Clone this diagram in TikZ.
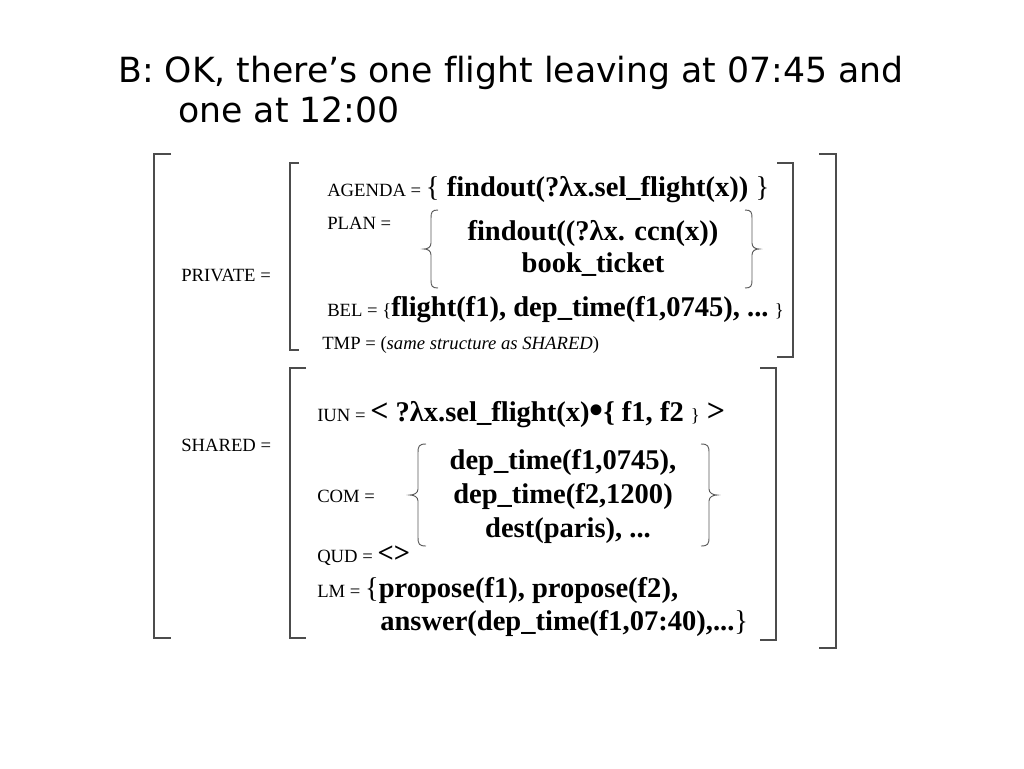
\documentclass[tikz,border=0pt]{standalone}
\usepackage{fontspec}
\setmainfont[Ligatures={TeX,NoCommon}]{Liberation Serif}
\newfontfamily\titlefont[Ligatures={TeX,NoCommon}]{DejaVu Sans}
\newcommand\bgtxt[1]{{\fontsize{21.4}{24}\selectfont\bfseries #1}}
\newcommand\bgreg[1]{{\fontsize{21.4}{24}\selectfont #1}}
\newcommand\bgbul{{\fontsize{30}{30}\selectfont\raisebox{-1.5pt}{•}}}
\begin{document}
\begin{tikzpicture}[x=0.75pt,y=-0.75pt,
  title/.style={anchor=base west, inner sep=0pt, font=\titlefont\fontsize{26}{30}\selectfont},
  lbl/.style={anchor=base west, inner sep=0pt, font=\fontsize{14}{16}\selectfont},
  bigc/.style={anchor=base, inner sep=0pt, font=\fontsize{21.4}{24}\selectfont\bfseries},
  brk/.style={draw=black!70, line width=0.9pt},
  brc/.style={draw=black!65, line width=0.7pt}]
\useasboundingbox (0,0) rectangle (1024,768);
% title
\node[title] (t1) at (118,82) {B: OK, there’s one flight leaving at 07:45 and};
\node[title] (t2) at (178,122) {one at 12:00};
% outer bracket
\draw[brk] (171,154) -- (154,154) -- (154,638) -- (171,638);
\draw[brk] (819,154) -- (836,154) -- (836,648) -- (819,648);
% private bracket
\draw[brk] (299,163) -- (290,163) -- (290,350) -- (299,350);
\draw[brk] (777,163) -- (793,163) -- (793,357) -- (777,357);
% shared bracket
\draw[brk] (306,368) -- (290,368) -- (290,638) -- (306,638);
\draw[brk] (760,368) -- (776,368) -- (776,640) -- (760,640);
% labels
\node[lbl] (priv) at (181,281) {PRIVATE =};
\node[lbl] (shar) at (181,451) {SHARED =};
% private contents
\node[lbl] (agenda) at (327,196) {AGENDA = \bgreg{\{ }\bgtxt{findout(?λx.sel\_flight(x))}\bgreg{ \}}};
\node[lbl] (plan) at (327,229) {PLAN =};
\node[bigc] (plan1) at (593,240) {findout((?λx. ccn(x))};
\node[bigc] (plan2) at (593,272) {book\_ticket};
\draw[brc] (438,210) .. controls (432,210) and (431,212) .. (431,218) -- (431,243) .. controls (431,247) and (428,249) .. (424,249) .. controls (428,249) and (431,251) .. (431,255) -- (431,280) .. controls (431,286) and (432,288) .. (438,288);
\draw[brc] (745,210) .. controls (751,210) and (752,212) .. (752,218) -- (752,243) .. controls (752,247) and (755,249) .. (759,249) .. controls (755,249) and (752,251) .. (752,255) -- (752,280) .. controls (752,286) and (751,288) .. (745,288);
\node[lbl] (bel) at (327,316) {BEL = \{\bgtxt{flight(f1), dep\_time(f1,0745), ...} \}};
\node[lbl] (tmp) at (322,349) {TMP = (\textit{same structure as SHARED})};
% shared contents
\node[lbl] (iun) at (317,421) {IUN = \bgtxt{{\fontsize{24}{24}\selectfont<} ?λx.sel\_flight(x)\bgbul\{ f1, f2 }\}\bgtxt{ {\fontsize{24}{24}\selectfont>}}};
\node[lbl] (com) at (317,502) {COM =};
\node[bigc] (com1) at (563,469) {dep\_time(f1,0745),};
\node[bigc] (com2) at (563,503) {dep\_time(f2,1200)};
\node[bigc] (com3) at (568,537) {dest(paris), ...};
\draw[brc] (426,444) .. controls (419,444) and (418,446) .. (418,453) -- (418,489) .. controls (418,493) and (414,495) .. (410,495) .. controls (414,495) and (418,497) .. (418,501) -- (418,537) .. controls (418,544) and (419,546) .. (426,546);
\draw[brc] (701,444) .. controls (708,444) and (709,446) .. (709,453) -- (709,489) .. controls (709,493) and (713,495) .. (717,495) .. controls (713,495) and (709,497) .. (709,501) -- (709,537) .. controls (709,544) and (708,546) .. (701,546);
\node[lbl] (qud) at (317,562) {QUD = \bgtxt{<>}};
\node[lbl] (lm) at (317,597) {LM = \bgreg{\{}\bgtxt{propose(f1), propose(f2),}};
\node[lbl] (lm2) at (380,630) {\bgtxt{answer(dep\_time(f1,07:40),...}\bgreg{\}}};
\end{tikzpicture}
\end{document}
